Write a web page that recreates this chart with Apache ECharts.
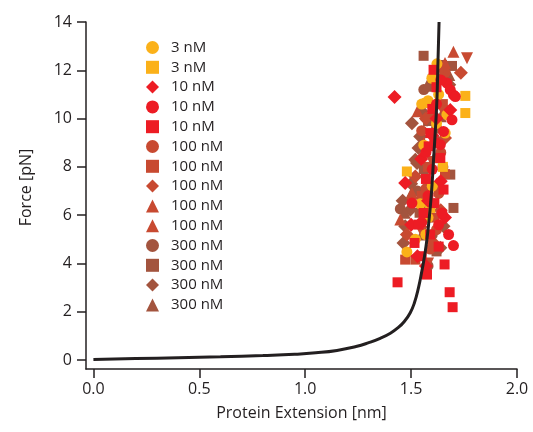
<!DOCTYPE html>
<html>
<head>
<meta charset="utf-8">
<script src="https://cdn.jsdelivr.net/npm/echarts@6/dist/echarts.min.js"></script>
<style>
  html, body { margin: 0; padding: 0; background: #fff; }
  #chart { width: 533px; height: 432px; }
</style>
</head>
<body>
<div id="chart"></div>
<script>
// tick labels
const xTicks = [0, 0.5, 1.0, 1.5, 2.0];
const yTicks = [0, 2, 4, 6, 8, 10, 12, 14];

// model curve
const curve = [
  [0, 0.02], [0.2, 0.06], [0.4, 0.10], [0.6, 0.14], [0.8, 0.19], [0.95, 0.24], [1.05, 0.30], [1.15, 0.40],
  [1.24, 0.56], [1.30, 0.72], [1.354, 0.90], [1.40, 1.10], [1.44, 1.35], [1.47, 1.62], [1.496, 1.96],
  [1.515, 2.35], [1.535, 3.0], [1.551, 3.7], [1.567, 4.5], [1.58, 5.4], [1.595, 6.8], [1.606, 8.3],
  [1.615, 9.6], [1.622, 10.8], [1.627, 12.4], [1.632, 14.0]
];

// measured points, one array per legend entry
const c3Circle = [[1.598,11.67],[1.622,12.27],[1.58,10.74],[1.669,10.16],[1.661,9.4],[1.543,6.47],[1.48,4.48],
  [1.56,8.9],[1.60,7.2],[1.58,5.9],[1.55,10.6],[1.63,11.0],[1.57,5.2],[1.62,9.8],[1.52,5.0]];
const c3Square = [[1.756,10.94],[1.756,10.23],[1.575,10.64],[1.48,7.81],[1.59,6.3],[1.65,8.0]];
const c10Diamond = [[1.422,10.89],[1.685,10.36],[1.548,8.33],[1.472,7.33],[1.60,9.3],[1.64,7.4],[1.53,4.3],
  [1.58,6.6],[1.50,5.6],[1.62,10.0],[1.66,5.9],[1.57,3.9]];
const c10Circle = [[1.669,11.47],[1.685,11.19],[1.70,10.98],[1.709,10.91],[1.693,9.95],[1.638,8.92],[1.653,9.47],
  [1.504,6.5],[1.646,6.09],[1.677,5.2],[1.70,4.74],[1.62,10.6],[1.64,11.6],[1.60,7.9],[1.57,8.6],[1.58,6.8],
  [1.63,5.6],[1.55,5.7]];
const c10Square = [[1.606,12.02],[1.591,9.4],[1.583,8.85],[1.638,8.37],[1.653,7.06],[1.559,6.09],[1.516,4.85],
  [1.658,3.96],[1.575,3.54],[1.535,5.61],[1.436,3.22],[1.682,2.81],[1.696,2.19],[1.60,10.4],[1.62,11.3],
  [1.57,7.5],[1.61,6.5],[1.63,4.7],[1.55,4.3],[1.59,5.2],[1.61,9.0]];
const c100Circle = [[1.60,10.1],[1.64,8.6],[1.57,7.1],[1.62,5.4],[1.66,11.9],[1.55,9.5],[1.59,4.6],[1.63,6.9]];
const c100Square = [[1.472,4.16],[1.52,4.16],[1.65,10.6],[1.58,8.0],[1.61,5.9],[1.66,7.7],[1.55,6.8],[1.63,12.1]];
const c100Diamond = [[1.735,11.9],[1.66,9.2],[1.52,7.6],[1.60,4.9],[1.57,10.0],[1.64,6.2],[1.48,5.2]];
const c100Down = [[1.764,12.5],[1.60,8.2],[1.55,5.3],[1.65,10.3],[1.58,4.0]];
const c100Up = [[1.70,12.77],[1.504,6.92],[1.449,5.82],[1.56,9.0],[1.62,7.3],[1.66,12.3],[1.53,10.3]];
const c300Circle = [[1.449,6.26],[1.56,11.2],[1.62,9.6],[1.53,7.0],[1.60,5.2],[1.65,8.0],[1.58,3.9]];
const c300Square = [[1.559,12.6],[1.646,12.22],[1.693,12.18],[1.685,7.68],[1.70,6.3],[1.58,9.9],[1.54,6.1],
  [1.62,4.5],[1.60,11.4],[1.56,7.9]];
const c300Diamond = [[1.504,9.81],[1.551,10.29],[1.575,9.95],[1.543,9.26],[1.535,8.78],[1.52,8.3],[1.528,8.16],
  [1.496,6.23],[1.472,5.54],[1.464,4.85],[1.653,5.54],[1.638,4.65],[1.50,7.3],[1.46,6.6],[1.57,6.4],
  [1.61,11.8],[1.68,11.4],[1.63,9.0]];
const c300Up = [[1.575,11.36],[1.50,6.9],[1.55,5.2],[1.61,8.4],[1.47,6.1],[1.64,10.1],[1.68,11.8]];

const labels = ['3 nM', '3 nM', '10 nM', '10 nM', '10 nM', '100 nM', '100 nM', '100 nM', '100 nM', '100 nM',
  '300 nM', '300 nM', '300 nM', '300 nM'];
const shapes = ['circle', 'rect', 'diamond', 'circle', 'rect', 'circle', 'rect', 'diamond', 'down', 'triangle',
  'circle', 'rect', 'diamond', 'triangle'];
const pointSets = [c3Circle, c3Square, c10Diamond, c10Circle, c10Square, c100Circle, c100Square, c100Diamond,
  c100Down, c100Up, c300Circle, c300Square, c300Diamond, c300Up];

const colorOf = { '3 nM': '#FBB119', '10 nM': '#ED1C24', '100 nM': '#C84A31', '300 nM': '#A3543E' };
// stacking: reds on top, browns underneath
const layerOf = { '3 nM': 4, '10 nM': 5, '100 nM': 3, '300 nM': 2 };
const sizeOf = { circle: 11, rect: 10, diamond: 14, triangle: 12, down: 12 };

const font = '"Open Sans", "Noto Sans", sans-serif';
const ink = '#231F20';

const scatterSeries = pointSets.map((pts, i) => ({
  name: 's' + i,
  type: 'scatter',
  data: pts,
  symbol: shapes[i] === 'down' ? 'triangle' : shapes[i],
  symbolRotate: shapes[i] === 'down' ? 180 : 0,
  symbolSize: sizeOf[shapes[i]],
  itemStyle: { color: colorOf[labels[i]], opacity: 1 },
  z: layerOf[labels[i]]
}));

const chart = echarts.init(document.getElementById('chart'), null, { renderer: 'canvas' });

chart.setOption({
  animation: false,
  backgroundColor: '#fff',
  grid: { left: 86, right: 16, top: 22, bottom: 63 },
  legend: {
    orient: 'vertical',
    left: 141,
    top: 35,
    itemWidth: 13,
    itemHeight: 13,
    itemGap: 4.8,
    data: scatterSeries.map(s => s.name),
    formatter: name => labels[Number(name.slice(1))],
    textStyle: { fontFamily: font, fontSize: 15, color: ink, lineHeight: 15, padding: [0, 0, 0, 7] }
  },
  xAxis: {
    type: 'value',
    min: -0.035,
    max: 2.0,
    name: 'Protein Extension [nm]',
    nameLocation: 'middle',
    nameGap: 36,
    nameTextStyle: { fontFamily: font, fontSize: 16, color: ink },
    axisLine: { show: true, onZero: false, lineStyle: { color: ink, width: 1.5 } },
    axisTick: { show: true, length: 9, customValues: xTicks, lineStyle: { color: ink, width: 1.5 } },
    axisLabel: {
      customValues: xTicks, margin: 12, fontFamily: font, fontSize: 16, color: ink,
      formatter: v => v.toFixed(1)
    },
    splitLine: { show: false }
  },
  yAxis: {
    type: 'value',
    min: -0.37,
    max: 14,
    name: 'Force [pN]',
    nameLocation: 'middle',
    nameGap: 52,
    nameTextStyle: { fontFamily: font, fontSize: 16, color: ink, padding: [0, 0, 0, 16] },
    axisLine: { show: true, onZero: false, lineStyle: { color: ink, width: 1.5 } },
    axisTick: { show: true, length: 9, customValues: yTicks, lineStyle: { color: ink, width: 1.5 } },
    axisLabel: {
      customValues: yTicks, margin: 14, fontFamily: font, fontSize: 16, color: ink,
      formatter: v => String(Math.round(v))
    },
    splitLine: { show: false }
  },
  series: scatterSeries.concat([{
    name: 'model',
    type: 'line',
    data: curve,
    smooth: 0.5,
    showSymbol: false,
    symbol: 'none',
    lineStyle: { color: ink, width: 3 },
    z: 6
  }])
});
</script>
</body>
</html>
